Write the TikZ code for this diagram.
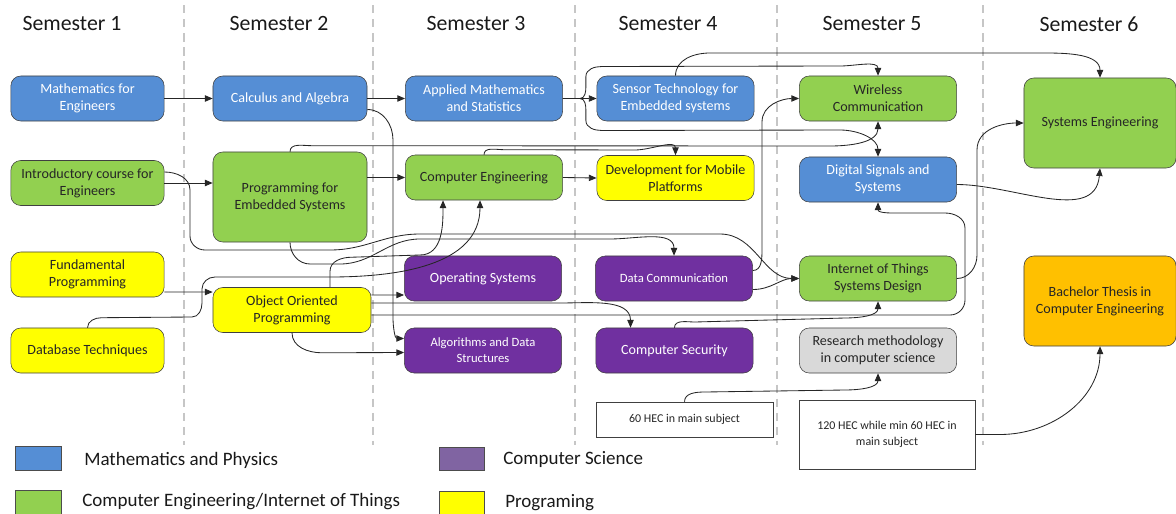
\documentclass[tikz,border=0pt]{standalone}
\usepackage{fontspec}
\setmainfont{Carlito}
\usepackage{xcolor}
\usetikzlibrary{arrows.meta,positioning,calc}

\definecolor{mathblue}{HTML}{558ED5}
\definecolor{engreen}{HTML}{92D050}
\definecolor{csviolet}{HTML}{7030A0}
\definecolor{progyellow}{HTML}{FFFF00}
\definecolor{thesisorange}{HTML}{FFC000}
\definecolor{resgray}{HTML}{D9D9D9}
\definecolor{legviolet}{HTML}{8064A2}

\begin{document}
\begin{tikzpicture}[
    x=0.025cm, y=0.025cm,
    >={Triangle[length=5.5pt,width=4.5pt]},
    font=\fontsize{10}{12}\selectfont,
    course/.style={draw=black!75, rounded corners=7pt, align=center,
                   minimum width=3.93cm, minimum height=1.125cm, inner sep=2pt},
    mathbox/.style={course, fill=mathblue, text=white},
    engbox/.style={course, fill=engreen, text=black!85},
    csbox/.style={course, fill=csviolet, text=white},
    progbox/.style={course, fill=progyellow, text=black!85},
    hecbox/.style={draw=black!75, fill=white, align=center, text=black!85,
                   font=\fontsize{8.5}{11}\selectfont},
    semester/.style={font=\fontsize{15.5}{18}\selectfont, text=black!90},
    legbox/.style={draw=black!70, minimum width=1.15cm, minimum height=0.59cm, inner sep=0pt},
    legtext/.style={anchor=west, inner sep=0pt, font=\fontsize{13.5}{16}\selectfont, text=black!90},
    sep/.style={gray!45, line width=1pt, dash pattern=on 6pt off 4pt},
    flow/.style={->, black!85, line width=0.6pt},
]
\useasboundingbox (0,0) rectangle (1176,-513);

% --- semester columns ---
\draw[sep] (184,-5) -- (184,-445);
\draw[sep] (373,-5) -- (373,-445);
\draw[sep] (575,-5) -- (575,-445);
\draw[sep] (777,-5) -- (777,-445);
\draw[sep] (983,-5) -- (983,-445);

\node[semester] (sem1) at (72,-24)   {Semester 1};
\node[semester] (sem2) at (279,-24)  {Semester 2};
\node[semester] (sem3) at (476,-24)  {Semester 3};
\node[semester] (sem4) at (668,-24)  {Semester 4};
\node[semester] (sem5) at (872,-24)  {Semester 5};
\node[semester] (sem6) at (1089,-24) {Semester 6};

% --- semester 1 ---
\node[mathbox, minimum width=3.83cm] (math)  at (87.5,-98.5) {Mathematics for\\Engineers};
\node[engbox, minimum width=3.83cm]  (intro) at (87.5,-183)  {Introductory course for\\Engineers};
\node[progbox, minimum width=3.83cm] (fund)  at (87.5,-274.5) {Fundamental\\Programming};
\node[progbox, minimum width=3.83cm] (db)    at (87.5,-350.5) {Database Techniques};

% --- semester 2 ---
\node[mathbox, minimum width=3.85cm] (calc) at (290,-98.5) {Calculus and Algebra};
\node[engbox, minimum width=3.85cm, minimum height=2.25cm] (progemb) at (290,-197)
  {Programming for\\Embedded Systems};
\node[progbox, minimum width=3.95cm] (oop) at (292,-310) {Object Oriented\\Programming};

% --- semester 3 ---
\node[mathbox] (applied) at (484,-98.5)  {Applied Mathematics\\and Statistics};
\node[engbox]  (ce)      at (484,-177.5) {Computer Engineering};
\node[csbox]   (opsys)   at (483,-278.5) {Operating Systems};
\node[csbox, font=\fontsize{9}{11.5}\selectfont] (algo) at (483,-350.5)
  {Algorithms and Data\\Structures};

% --- semester 4 ---
\node[mathbox]  (sensor)   at (675.5,-98.5) {Sensor Technology for\\Embedded systems};
\node[progbox]  (devmob)   at (675.5,-178)  {Development for Mobile\\Platforms};
\node[csbox, font=\fontsize{9}{11.5}\selectfont] (datacomm) at (674,-278.5) {Data Communication};
\node[csbox]    (compsec)  at (674.5,-350.5) {Computer Security};
\node[hecbox, minimum width=4.425cm, minimum height=0.875cm] (hec60) at (684.5,-419.5)
  {60 HEC in main subject};

% --- semester 5 ---
\node[engbox]  (wireless) at (878,-98.5)  {Wireless\\Communication};
\node[mathbox] (digsig)   at (878,-179.5) {Digital Signals and\\Systems};
\node[engbox]  (iot)      at (878,-278.5) {Internet of Things\\Systems Design};
\node[course, fill=resgray, text=black!85] (research) at (878,-350.5)
  {Research methodology\\in computer science};
\node[hecbox, minimum width=4.4cm, minimum height=1.725cm] (hec120) at (887,-434.5)
  {120 HEC while min 60 HEC in\\main subject};

% --- semester 6 ---
\node[engbox, minimum width=3.8cm, minimum height=2.25cm] (syseng) at (1100,-123)
  {Systems Engineering};
\node[course, fill=thesisorange, text=black!85, minimum width=3.8cm, minimum height=2.25cm]
  (thesis) at (1100,-301) {Bachelor Thesis in\\Computer Engineering};

% --- straight prerequisites ---
\draw[flow] (math.east) -- (calc.west);
\draw[flow] (calc.east) -- (applied.west);
\draw[flow] (applied.east) -- (sensor.west);
\draw[flow] (intro.east) -- (intro.east -| progemb.west);
\draw[flow] (progemb.east |- ce.west) -- (ce.west);
\draw[flow] (ce.east) -- (devmob.west);
\draw[flow] ($(fund.east)+(0,-17.5)$) -- ($(oop.west)+(0,18)$);
\draw[flow] ($(oop.east)+(0,15)$) -- ($(opsys.west)+(0,-16.5)$);
\draw[flow] (oop.south) to[out=-90,in=180] ($(oop.south)+(30,-20)$) -- ($(algo.west)+(0,-2)$);

% --- calculus down to algorithms ---
\draw[flow] ($(calc.east)+(0,-11)$) to[out=0,in=90] (393,-140) -- (393,-318)
  to[out=-90,in=180] ($(algo.west)+(0,12)$);

% --- applied mathematics branches ---
\draw[flow] (applied.east) -- ++(17,0) to[out=0,in=-90] ++(6,12) -- ++(0,10)
  to[out=90,in=180] ++(16,10) -- (840,-66) to[out=0,in=90] (wireless.north);
\draw[flow] (applied.east) -- ++(17,0) to[out=0,in=90] ++(6,-12) -- ++(0,-10)
  to[out=-90,in=180] ++(16,-10) -- (840,-130) to[out=0,in=90] (digsig.north);
\draw[flow] (sensor.north) to[out=90,in=180] (710,-53) -- (1045,-53)
  to[out=0,in=90] (syseng.north);

% --- top corridor ---
\draw[flow] (progemb.north) to[out=90,in=180] ($(progemb.north)+(22,6)$) -- (830,-146)
  to[out=0,in=-90] (wireless.south);
\draw[flow] (ce.north) to[out=90,in=180] ($(ce.north)+(20,5)$) -- (635,-150)
  to[out=0,in=90] (devmob.north);

% --- into computer engineering from below ---
\draw[flow] (db.north) to[out=90,in=180] ($(db.north)+(14,10)$) -- (192,-317)
  to[out=0,in=-90] (202,-303) -- (202,-289) to[out=90,in=180] (215,-277) -- (330,-277)
  to[out=0,in=-90] ($(ce.south)+(-4,0)$);
\draw[flow] ($(oop.north)+(38,0)$) -- ++(0,16) to[out=90,in=180] ++(22,14) -- (420,-255)
  to[out=0,in=-90] ($(ce.south)+(-41,0)$);

% --- middle corridor ---
\draw[flow] ($(intro.east)+(0,11)$) to[out=0,in=90] (190,-190) -- (190,-236)
  to[out=-90,in=180] (205,-250) -- (330,-250) to[out=0,in=180] (420,-234) -- (720,-234)
  to[out=0,in=180] (iot.west);
\draw[flow] (progemb.south) to[out=-90,in=180] (310,-264) -- (340,-264)
  to[out=0,in=180] (420,-239) -- (610,-239) to[out=0,in=90] (datacomm.north);

% --- lower corridor ---
\draw[flow] ($(oop.east)+(0,7)$) -- (560,-303) to[out=0,in=90] ($(compsec.north)+(-44,0)$);
\draw[flow] ($(oop.east)+(0,-5)$) -- (950,-315) to[out=0,in=-90] (965,-300) -- (965,-228)
  to[out=90,in=0] (945,-213) -- (905,-213) to[out=180,in=-90] (digsig.south);
\draw[flow] (compsec.north) to[out=90,in=180] (695,-322) -- (845,-318)
  to[out=0,in=-90] (iot.south);

% --- semester 4 to 6 ---
\draw[flow] ($(datacomm.east)+(0,8)$) to[out=0,in=-90] (762,-250) -- (762,-122)
  to[out=90,in=180] (wireless.west);
\draw[flow] ($(datacomm.east)+(0,-11)$) to[out=0,in=180] (iot.west);
\draw[flow] (iot.east) to[out=0,in=-90] (977,-255) -- (977,-150)
  to[out=90,in=180] (syseng.west);
\draw[flow] ($(digsig.east)+(0,-5)$) to[out=0,in=-95] (syseng.south);

% --- credit requirements ---
\draw[flow] (hec60.north) to[out=90,in=180] (705,-392) -- (845,-390)
  to[out=0,in=-90] (research.south);
\draw[flow] (hec120.east) -- (1000,-434.5) to[out=0,in=-90] (thesis.south);

% --- legend ---
\node[legbox, fill=mathblue]   (legmath) at (38.5,-458) {};
\node[legbox, fill=engreen]    (legeng)  at (38.5,-502) {};
\node[legbox, fill=legviolet, minimum width=1.125cm, minimum height=0.575cm] (legcs) at (461.5,-458.5) {};
\node[legbox, fill=progyellow, minimum width=1.125cm, minimum height=0.575cm] (legprog) at (461.5,-502.5) {};
\node[legtext] (legmathtxt) at (84,-460)  {Mathematics and Physics};
\node[legtext] (legengtxt)  at (82,-502)  {Computer Engineering/Internet of Things};
\node[legtext] (legcstxt)   at (503,-459) {Computer Science};
\node[legtext] (legprogtxt) at (505,-503) {Programing};
\end{tikzpicture}
\end{document}
